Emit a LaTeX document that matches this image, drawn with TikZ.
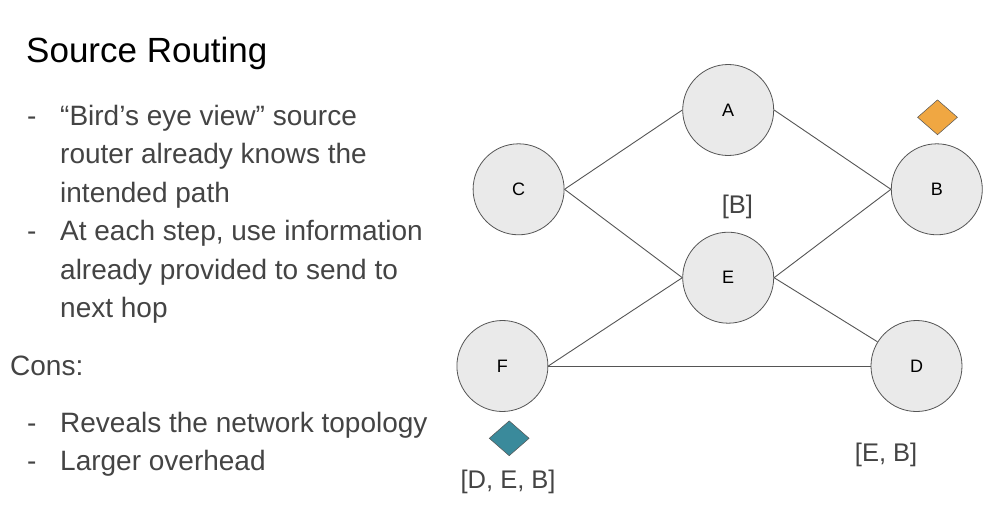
\documentclass[tikz,border=0pt]{standalone}
\usepackage{fontspec}
\setmainfont{Liberation Sans}
\usetikzlibrary{shapes.geometric}
\definecolor{txt}{HTML}{444444}
\definecolor{nodefill}{HTML}{EAEAEA}
\definecolor{edgec}{HTML}{555555}
\definecolor{orangeD}{HTML}{F0A742}
\definecolor{tealD}{HTML}{3A8A9B}
\begin{document}
\begin{tikzpicture}[x=1pt,y=-1pt,
  router/.style={circle,draw=edgec,line width=0.8pt,fill=nodefill,minimum size=91pt,inner sep=0pt,font=\fontsize{18}{20}\selectfont},
  link/.style={draw=edgec,line width=0.9pt},
  body/.style={anchor=base west,inner sep=0pt,text=txt,font=\fontsize{28}{34}\selectfont},
  lbl/.style={inner sep=0pt,text=txt,font=\fontsize{25.5}{28}\selectfont},
  packet/.style={diamond,draw=edgec,line width=0.5pt,minimum width=40pt,minimum height=35pt,inner sep=0pt,aspect=1.15}]
\useasboundingbox[fill=white] (0,0) rectangle (1002,525);
% text
\node[anchor=base west,inner sep=0pt,font=\fontsize{35}{40}\selectfont] (title) at (26,62) {Source Routing};
\node[body] (d1) at (27,125) {-};
\node[body] (t1) at (60,125) {“Bird’s eye view” source};
\node[body] (t2) at (60,163.5) {router already knows the};
\node[body] (t3) at (60,202) {intended path};
\node[body] (d2) at (27,240.5) {-};
\node[body] (t4) at (60,240.5) {At each step, use information};
\node[body] (t5) at (60,279) {already provided to send to};
\node[body] (t6) at (60,317.5) {next hop};
\node[body] (cons) at (10,375) {Cons:};
\node[body] (d3) at (27,432) {-};
\node[body] (t7) at (60,432) {Reveals the network topology};
\node[body] (d4) at (27,470.5) {-};
\node[body] (t8) at (60,470.5) {Larger overhead};
% nodes
\node[router] (A) at (728.2,110) {A};
\node[router] (C) at (518.6,189.3) {C};
\node[router] (B) at (936.8,189.3) {B};
\node[router] (E) at (728.2,277.7) {E};
\node[router] (F) at (502.4,366) {F};
\node[router] (D) at (916.5,366) {D};
% links
\draw[link] (C.east) -- (A.west);
\draw[link] (A.east) -- (B.west);
\draw[link] (C.east) -- (E.west);
\draw[link] (E.east) -- (B.west);
\draw[link] (E.east) -- (D);
\draw[link] (F.east) -- (E.west);
\draw[link] (F.east) -- (D.west);
% packets
\node[packet,fill=orangeD] (p1) at (937.5,117.3) {};
\node[packet,fill=tealD] (p2) at (509.2,438.3) {};
% labels
\node[lbl] (lB) at (737.4,207) {[B]};
\node[lbl] (lEB) at (886.1,455) {[E, B]};
\node[lbl] (lDEB) at (508.1,482) {[D, E, B]};
\end{tikzpicture}
\end{document}
